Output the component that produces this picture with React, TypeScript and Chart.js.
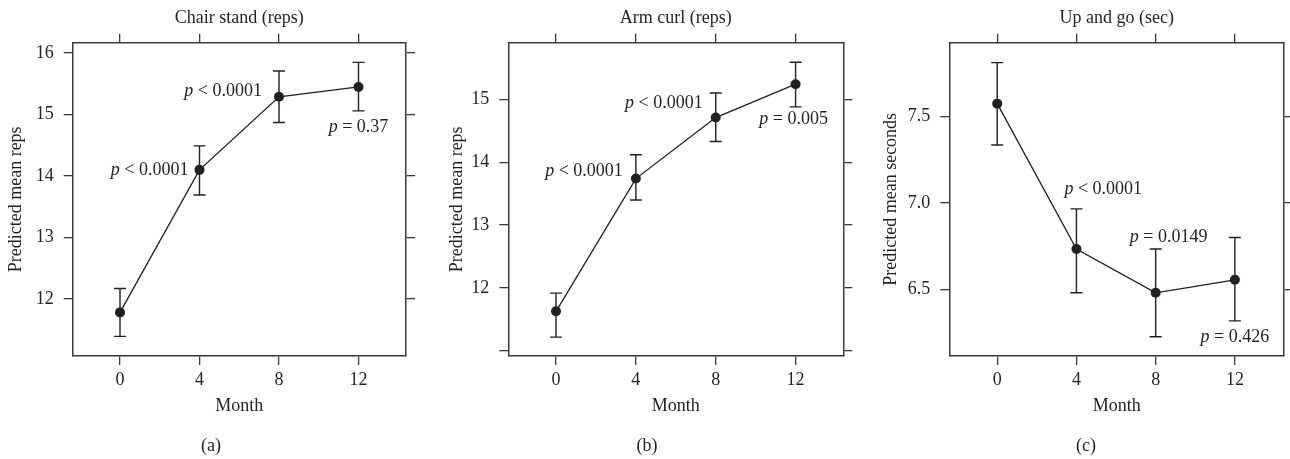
import React, { useEffect, useRef } from 'react';
import { Chart, registerables } from 'chart.js';

Chart.register(...registerables);

const FONT = '"Liberation Serif", "DejaVu Serif", serif';
const INK = '#231f20';
const AXIS = '#3a3a3a';
const FS = 18;

// ---- data ----
const MONTHS = [0, 4, 8, 12];
const MONTH_LABELS = ['0', '4', '8', '12'];

const CHAIR_MEAN = [11.78, 14.1, 15.29, 15.45];
const CHAIR_LOWER = [11.39, 13.69, 14.87, 15.06];
const CHAIR_UPPER = [12.17, 14.49, 15.71, 15.85];
const CHAIR_P = ['', '< 0.0001', '< 0.0001', '= 0.37'];
const CHAIR_Y_TICKS = [12, 13, 14, 15, 16];
const CHAIR_Y_LABELS = ['12', '13', '14', '15', '16'];

const ARM_MEAN = [11.63, 13.74, 14.71, 15.24];
const ARM_LOWER = [11.22, 13.4, 14.33, 14.88];
const ARM_UPPER = [11.92, 14.12, 15.1, 15.59];
const ARM_P = ['', '< 0.0001', '< 0.0001', '= 0.005'];
const ARM_Y_TICKS = [11, 12, 13, 14, 15];
const ARM_Y_LABELS = ['', '12', '13', '14', '15'];

const UPGO_MEAN = [7.573, 6.733, 6.48, 6.555];
const UPGO_LOWER = [7.334, 6.48, 6.226, 6.318];
const UPGO_UPPER = [7.81, 6.965, 6.733, 6.8];
const UPGO_P = ['', '< 0.0001', '= 0.0149', '= 0.426'];
const UPGO_Y_TICKS = [6.5, 7.0, 7.5];
const UPGO_Y_LABELS = ['6.5', '7.0', '7.5'];

const W = 430;
const H = 459;

type Place = { dx: number; dy: number; align: 'left' | 'right' | 'center' } | null;

type PanelCfg = {
  title: string;
  yTitle: string;
  tag: string;
  mean: number[];
  lower: number[];
  upper: number[];
  pText: string[];
  pPlace: Place[];
  yTicks: number[];
  yLabels: string[];
  yMin: number;
  yMax: number;
  xMin: number;
  xMax: number;
  area: { left: number; right: number; top: number; bottom: number };
  yTitlePad: number;
  tagX: number;
};

const PANELS: PanelCfg[] = [
  {
    title: 'Chair stand (reps)',
    yTitle: 'Predicted mean reps',
    tag: '(a)',
    mean: CHAIR_MEAN,
    lower: CHAIR_LOWER,
    upper: CHAIR_UPPER,
    pText: CHAIR_P,
    pPlace: [null, { dx: -11, dy: 0, align: 'right' }, { dx: -17, dy: -5, align: 'right' }, { dx: 0, dy: 40, align: 'center' }],
    yTicks: CHAIR_Y_TICKS,
    yLabels: CHAIR_Y_LABELS,
    yMin: 11.07,
    yMax: 16.17,
    xMin: -2.38,
    xMax: 14.39,
    area: { left: 72.7, right: 406, top: 42.7, bottom: 356 },
    yTitlePad: 5,
    tagX: 211,
  },
  {
    title: 'Arm curl (reps)',
    yTitle: 'Predicted mean reps',
    tag: '(b)',
    mean: ARM_MEAN,
    lower: ARM_LOWER,
    upper: ARM_UPPER,
    pText: ARM_P,
    pPlace: [null, { dx: -13, dy: -7, align: 'right' }, { dx: -13, dy: -14, align: 'right' }, { dx: -2, dy: 35, align: 'center' }],
    yTicks: ARM_Y_TICKS,
    yLabels: ARM_Y_LABELS,
    yMin: 10.92,
    yMax: 15.9,
    xMin: -2.39,
    xMax: 14.39,
    area: { left: 78.3, right: 413.3, top: 42.7, bottom: 356 },
    yTitlePad: 16.7,
    tagX: 217,
  },
  {
    title: 'Up and go (sec)',
    yTitle: 'Predicted mean seconds',
    tag: '(c)',
    mean: UPGO_MEAN,
    lower: UPGO_LOWER,
    upper: UPGO_UPPER,
    pText: UPGO_P,
    pPlace: [null, { dx: -12, dy: -60, align: 'left' }, { dx: 13, dy: -56, align: 'center' }, { dx: 0, dy: 57, align: 'center' }],
    yTicks: UPGO_Y_TICKS,
    yLabels: UPGO_Y_LABELS,
    yMin: 6.115,
    yMax: 7.925,
    xMin: -2.42,
    xMax: 14.48,
    area: { left: 89.3, right: 424, top: 42.7, bottom: 356 },
    yTitlePad: 20.9,
    tagX: 226,
  },
];

const overlayPlugin = {
  id: 'overlay',
  beforeDatasetsDraw(chart: any, _args: any, opts: any) {
    const cfg: PanelCfg = opts.cfg;
    const { ctx } = chart;
    const x = chart.scales.x;
    const y = chart.scales.y;
    ctx.save();
    ctx.strokeStyle = INK;
    ctx.lineWidth = 1.4;
    MONTHS.forEach((m, i) => {
      const px = x.getPixelForValue(m);
      const y1 = y.getPixelForValue(cfg.lower[i]);
      const y2 = y.getPixelForValue(cfg.upper[i]);
      ctx.beginPath();
      ctx.moveTo(px, y1);
      ctx.lineTo(px, y2);
      ctx.moveTo(px - 6, y1);
      ctx.lineTo(px + 6, y1);
      ctx.moveTo(px - 6, y2);
      ctx.lineTo(px + 6, y2);
      ctx.stroke();
    });
    ctx.restore();
  },
  afterDraw(chart: any, _args: any, opts: any) {
    const cfg: PanelCfg = opts.cfg;
    const { ctx } = chart;
    const x = chart.scales.x;
    const y = chart.scales.y;
    ctx.save();
    ctx.fillStyle = INK;
    ctx.textBaseline = 'middle';
    ctx.textAlign = 'left';
    const italic = `italic ${FS}px ${FONT}`;
    const normal = `${FS}px ${FONT}`;
    cfg.pText.forEach((t, i) => {
      const place = cfg.pPlace[i];
      if (!t || !place) return;
      const px = x.getPixelForValue(MONTHS[i]) + place.dx;
      const py = y.getPixelForValue(cfg.mean[i]) + place.dy;
      ctx.font = italic;
      const wP = ctx.measureText('p').width;
      ctx.font = normal;
      const rest = ' ' + t;
      const wR = ctx.measureText(rest).width;
      const total = wP + wR;
      let x0 = px;
      if (place.align === 'right') x0 = px - total;
      else if (place.align === 'center') x0 = px - total / 2;
      ctx.font = italic;
      ctx.fillText('p', x0, py);
      ctx.font = normal;
      ctx.fillText(rest, x0 + wP, py);
    });
    ctx.font = normal;
    ctx.textAlign = 'center';
    ctx.fillText(cfg.tag, cfg.tagX, 446);
    ctx.restore();
  },
};

function Panel({ cfg }: { cfg: PanelCfg }) {
  const ref = useRef<HTMLCanvasElement | null>(null);
  useEffect(() => {
    if (!ref.current) return;
    const grid = {
      display: true,
      drawOnChartArea: false,
      drawTicks: true,
      tickLength: 9,
      color: AXIS,
      lineWidth: 1.3,
    };
    const border = { display: true, color: AXIS, width: 1.5 };
    const tickFont = { family: FONT, size: FS };
    const setX = (s: any) => {
      s.ticks = MONTHS.map((v) => ({ value: v }));
    };
    const setY = (s: any) => {
      s.ticks = cfg.yTicks.map((v) => ({ value: v }));
    };
    const chart = new Chart(ref.current, {
      type: 'line',
      data: {
        datasets: [
          {
            data: MONTHS.map((m, i) => ({ x: m, y: cfg.mean[i] })),
            borderColor: INK,
            borderWidth: 1.3,
            pointRadius: 5,
            pointBackgroundColor: INK,
            pointBorderWidth: 0,
            tension: 0,
            fill: false,
          },
        ],
      },
      options: {
        responsive: false,
        animation: false,
        events: [],
        layout: { padding: 0 },
        plugins: {
          legend: { display: false },
          tooltip: { enabled: false },
          title: { display: false },
          overlay: { cfg },
        } as any,
        scales: {
          x: {
            type: 'linear',
            position: 'bottom',
            min: cfg.xMin,
            max: cfg.xMax,
            afterBuildTicks: setX,
            afterFit: (s: any) => {
              s.height = H - cfg.area.bottom;
            },
            grid,
            border,
            ticks: {
              autoSkip: false,
              maxRotation: 0,
              padding: 4.9,
              color: INK,
              font: tickFont,
              callback: (_v: any, i: number) => MONTH_LABELS[i],
            },
            title: {
              display: true,
              text: 'Month',
              color: INK,
              font: { family: FONT, size: FS },
              padding: { top: 0, bottom: 41.5 },
            },
          },
          x2: {
            type: 'linear',
            position: 'top',
            min: cfg.xMin,
            max: cfg.xMax,
            afterBuildTicks: setX,
            afterFit: (s: any) => {
              s.height = cfg.area.top;
            },
            grid,
            border,
            ticks: { display: false, autoSkip: false },
            title: {
              display: true,
              text: cfg.title,
              color: INK,
              font: { family: FONT, size: FS },
              padding: { top: 7.2, bottom: 0 },
            },
          },
          y: {
            type: 'linear',
            position: 'left',
            min: cfg.yMin,
            max: cfg.yMax,
            afterBuildTicks: setY,
            afterFit: (s: any) => {
              s.width = cfg.area.left;
            },
            grid,
            border,
            ticks: {
              autoSkip: false,
              padding: 10,
              color: INK,
              font: tickFont,
              callback: (_v: any, i: number) => cfg.yLabels[i],
            },
            title: {
              display: true,
              text: cfg.yTitle,
              color: INK,
              font: { family: FONT, size: FS },
              padding: { top: cfg.yTitlePad, bottom: 0 },
            },
          },
          y2: {
            type: 'linear',
            position: 'right',
            min: cfg.yMin,
            max: cfg.yMax,
            afterBuildTicks: setY,
            afterFit: (s: any) => {
              s.width = W - cfg.area.right;
            },
            grid,
            border,
            ticks: { display: false, autoSkip: false },
          },
        } as any,
      },
      plugins: [overlayPlugin as any],
    });
    return () => chart.destroy();
  }, [cfg]);
  return <canvas ref={ref} width={W} height={H} style={{ width: W, height: H, display: 'block' }} />;
}

export default function App() {
  return (
    <div
      style={{
        position: 'absolute',
        left: 0,
        top: 0,
        width: W * 3,
        height: H,
        background: '#ffffff',
        display: 'flex',
      }}
    >
      {PANELS.map((p) => (
        <Panel key={p.tag} cfg={p} />
      ))}
    </div>
  );
}
